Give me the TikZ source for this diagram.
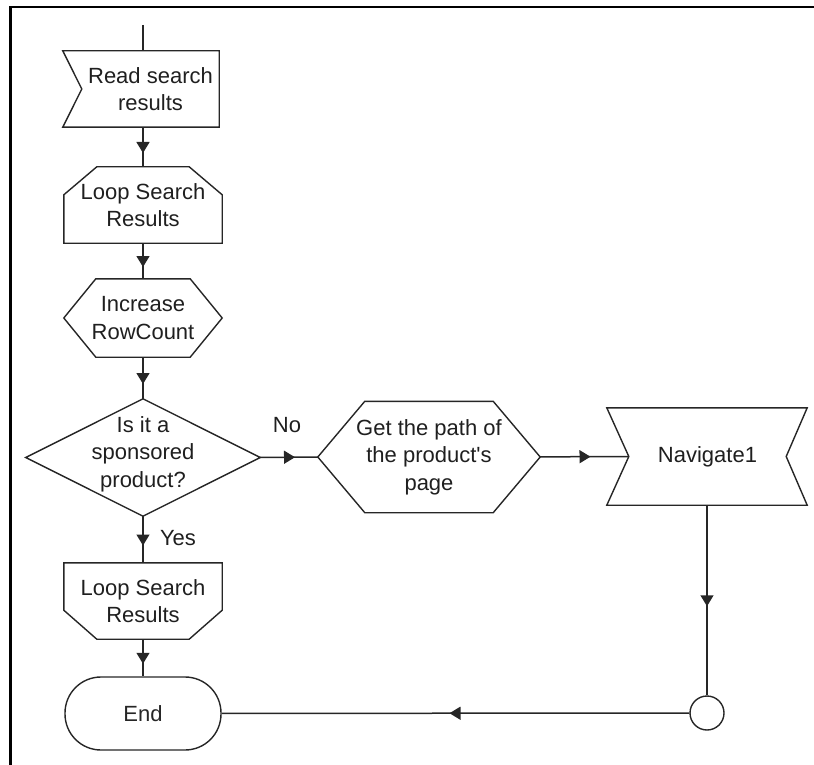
\documentclass[tikz,border=0pt]{standalone}
\usepackage{fontspec}
\setmainfont{Liberation Sans}
\usetikzlibrary{arrows.meta,calc,decorations.markings}
\newcommand{\readoutline}[2]{%
  % node, depth of the notch on the left side.
  \draw[outline] ($(#1.north west)+(-#2,0)$) -- (#1.north east) -- (#1.south east)
    -- ($(#1.south west)+(-#2,0)$) -- (#1.west) -- cycle;
}
\newcommand{\loopstartoutline}[3]{%
  % node, corner cut across, corner cut down.
  \draw[outline] (#1.south west) -- ($(#1.north west)+(0,#3)$) -- ($(#1.north west)+(#2,0)$)
    -- ($(#1.north east)+(-#2,0)$) -- ($(#1.north east)+(0,#3)$) -- (#1.south east) -- cycle;
}
\newcommand{\loopendoutline}[3]{%
  % node, corner cut across, corner cut up.
  \draw[outline] (#1.north west) -- (#1.north east) -- ($(#1.south east)+(0,-#3)$)
    -- ($(#1.south east)+(-#2,0)$) -- ($(#1.south west)+(#2,0)$) -- ($(#1.south west)+(0,-#3)$) -- cycle;
}
\newcommand{\hexoutline}[2]{%
  % node, inset of the top and bottom edges.
  \draw[outline] (#1.west) -- ($(#1.north west)+(#2,0)$) -- ($(#1.north east)+(-#2,0)$)
    -- (#1.east) -- ($(#1.south east)+(-#2,0)$) -- ($(#1.south west)+(#2,0)$) -- cycle;
}
\newcommand{\diamondoutline}[1]{%
  \draw[outline] (#1.north) -- (#1.east) -- (#1.south) -- (#1.west) -- cycle;
}
\newcommand{\bowoutline}[3]{%
  % node, notch depth left, notch depth right.
  \draw[outline] ($(#1.north west)+(-#2,0)$) -- ($(#1.north east)+(#3,0)$) -- (#1.east)
    -- ($(#1.south east)+(#3,0)$) -- ($(#1.south west)+(-#2,0)$) -- (#1.west) -- cycle;
}

\begin{document}
\begin{tikzpicture}[x=1pt,y=-1pt,
    every node/.style={font=\fontsize{22}{27.5}\selectfont,align=center,inner sep=0pt,text=black!88},
    box/.style={rectangle,minimum width=#1},
    outline/.style={line width=1.4pt,black!85},
    flowline/.style={line width=1.5pt,black!85},
    midarrow/.style={postaction={decorate},decoration={markings,
      mark=at position 0.5 with {\pgftransformxshift{6pt}\arrow{Triangle[length=11pt,width=13pt]}}}}]
  \useasboundingbox (0,0) rectangle (814,765);
  \draw[line width=2.6pt] (814,7) -- (10.5,7) -- (10.5,765);

  % left column
  \node[box=137,minimum height=76] (read) at (150.5,89) {Read search\\results};
  \node[box=158,minimum height=76] (loopa) at (143,205) {Loop Search\\Results};
  \node[box=158,minimum height=78] (inc) at (143,318) {Increase\\RowCount};
  \node[box=234,minimum height=117,text depth=11pt] (dia) at (143,457.5) {Is it a\\sponsored\\product?};
  \node[box=158,minimum height=76] (loopb) at (143,601) {Loop Search\\Results};
  \node[box=156,minimum height=73,draw,rounded corners=36pt,line width=1.4pt,black!85] (fin) at (143,713.5) {End};

  % right branch
  \node[box=222,minimum height=111] (getp) at (429,457) {Get the path of\\the product\textquotesingle s\\page};
  \node[box=157,minimum height=97] (nav) at (707.5,456.5) {Navigate1};
  \node[circle,draw,line width=1.4pt,black!85,minimum size=34pt] (joint) at (707,713) {};

  \node (no) at (287,425) {No};
  \node (yes) at (178,538) {Yes};

  \readoutline{read}{19}
  \loopstartoutline{loopa}{33}{28}
  \hexoutline{inc}{32}
  \diamondoutline{dia}
  \loopendoutline{loopb}{33}{29}
  \hexoutline{getp}{47}
  \bowoutline{nav}{22}{21}

  \coordinate (entry) at (143,25);
  \draw[flowline] (entry) -- (entry |- read.north);
  \draw[flowline,midarrow] (read.south -| loopa.north) -- (loopa.north);
  \draw[flowline,midarrow] (loopa) -- (inc);
  \draw[flowline,midarrow] (inc) -- (dia);
  \draw[flowline,midarrow] (dia) -- (getp);
  \draw[flowline,midarrow] (getp) -- (nav);
  \draw[flowline,midarrow] (dia) -- (loopb);
  \draw[flowline,midarrow] (loopb) -- (fin);
  \draw[flowline,midarrow] (nav.south -| joint.north) -- (joint);
  \draw[flowline,midarrow] (joint) -- (fin);
\end{tikzpicture}
\end{document}
